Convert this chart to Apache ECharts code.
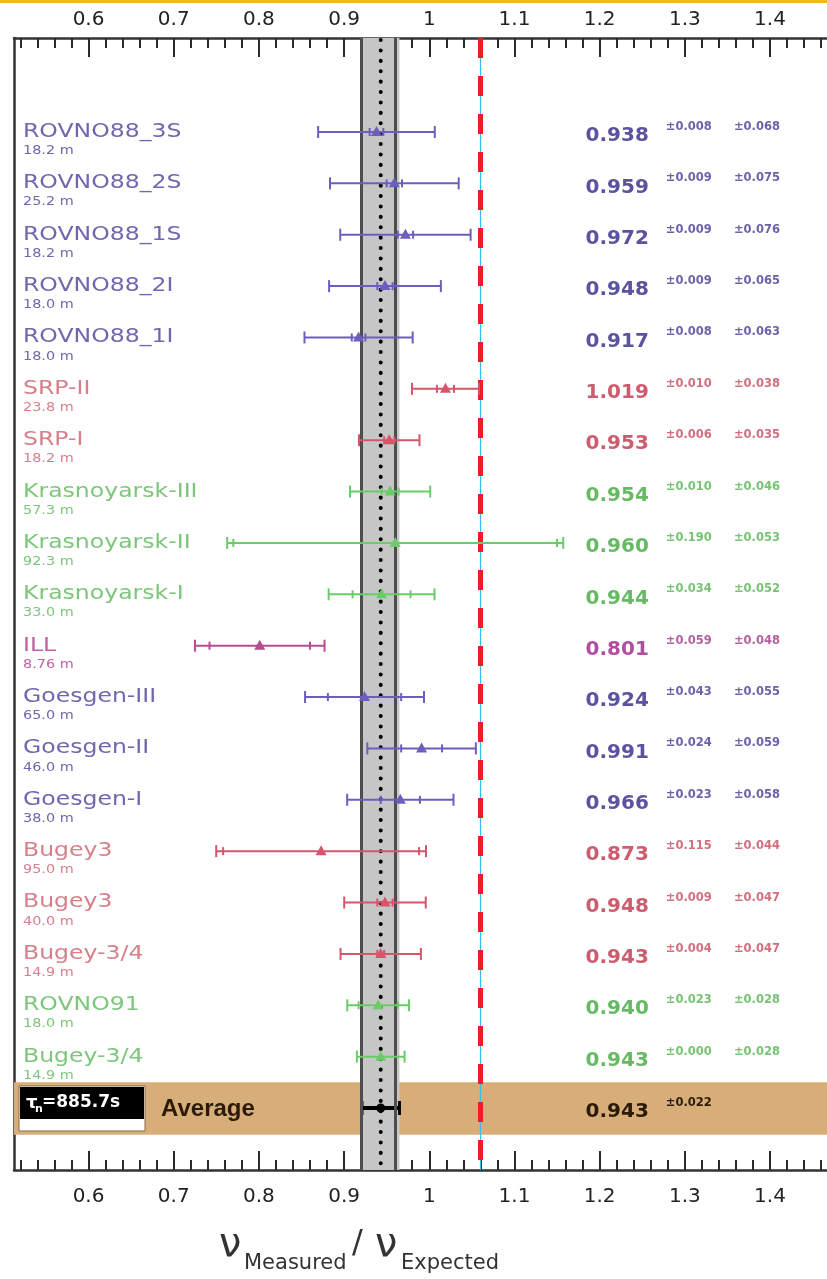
<!DOCTYPE html>
<html><head><meta charset="utf-8">
<script src="https://cdn.jsdelivr.net/npm/echarts@6/dist/echarts.min.js"></script>
<style>html,body{margin:0;padding:0;background:#fff}#c{width:827px;height:1279px}</style>
</head><body><div id="c"></div>
<script>
// ---------- data ----------
const names = ['ROVNO88_3S','ROVNO88_2S','ROVNO88_1S','ROVNO88_2I','ROVNO88_1I','SRP-II','SRP-I','Krasnoyarsk-III','Krasnoyarsk-II','Krasnoyarsk-I','ILL','Goesgen-III','Goesgen-II','Goesgen-I','Bugey3','Bugey3','Bugey-3/4','ROVNO91','Bugey-3/4'];
const distances = ['18.2 m','25.2 m','18.2 m','18.0 m','18.0 m','23.8 m','18.2 m','57.3 m','92.3 m','33.0 m','8.76 m','65.0 m','46.0 m','38.0 m','95.0 m','40.0 m','14.9 m','18.0 m','14.9 m'];
const ratios = [0.938,0.959,0.972,0.948,0.917,1.019,0.953,0.954,0.960,0.944,0.801,0.924,0.991,0.966,0.873,0.948,0.943,0.940,0.943];
const statErrors = [0.008,0.009,0.009,0.009,0.008,0.010,0.006,0.010,0.190,0.034,0.059,0.043,0.024,0.023,0.115,0.009,0.004,0.023,0.000];
const systErrors = [0.068,0.075,0.076,0.065,0.063,0.038,0.035,0.046,0.053,0.052,0.048,0.055,0.059,0.058,0.044,0.047,0.047,0.028,0.028];
const groups = ['B','B','B','B','B','R','R','G','G','G','M','B','B','B','R','R','R','G','G'];
const averageLabel = 'Average';
const averageValue = 0.943;
const averageError = 0.022;
const tauText = '=885.7s';
const xTickLabels = [0.6,0.7,0.8,0.9,1.0,1.1,1.2,1.3,1.4];
const referenceLine = 1.061;

// ---------- layout / style ----------
const XMIN = 0.5125, XMAX = 1.4669;
const YMIN = -1.83, YMAX = 20.207;
const COL_VALUE = 1.1835, COL_STAT = 1.2776, COL_SYST = 1.3576;
const minorTicks = [];
for (let k = 26; k <= 73; k++) if (k % 5 !== 0) minorTicks.push(k / 50);

const palette = {
  B: {name:'#6f68ae', value:'#5a539f', err:'#6a63aa', bar:'#6a5fbf'},
  R: {name:'#d6808b', value:'#cc5d6e', err:'#d0707e', bar:'#d5566c'},
  G: {name:'#7dc67b', value:'#66ba64', err:'#77c275', bar:'#6bcb68'},
  M: {name:'#c062a3', value:'#b04e9f', err:'#b5609e', bar:'#b54c8e'}
};
const SANS = '"DejaVu Sans"';

function vline(x, y, h, stroke, w) {
  return {type:'line', shape:{x1:x, y1:y-h, x2:x, y2:y+h}, style:{stroke, lineWidth:w}};
}
function txt(x, y, text, fill, size, weight, sx, family) {
  return {type:'text', x, y, scaleX: sx || 1,
    style:{text, fill, fontSize:size, fontWeight:weight || 'normal', fontFamily: family || SANS, align:'left', verticalAlign:'middle'}};
}
function fmt(e) { return '\u00b1' + e.toFixed(3); }

function renderRow(params, api) {
  const v = api.value(0), i = api.value(1);
  const st = api.value(2), sy = api.value(3);
  const tot = Math.sqrt(st * st + sy * sy);
  const c = palette[groups[params.dataIndex]];
  const p = api.coord([v, i]);
  const y = p[1];
  const xl = api.coord([v - tot, i])[0], xr = api.coord([v + tot, i])[0];
  const ch = [];
  ch.push({type:'line', shape:{x1:xl, y1:y, x2:xr, y2:y}, style:{stroke:c.bar, lineWidth:2}});
  ch.push(vline(xl, y, 6, c.bar, 2));
  ch.push(vline(xr, y, 6, c.bar, 2));
  if (st > 0.002) {
    ch.push(vline(api.coord([v - st, i])[0], y, 4, c.bar, 2));
    ch.push(vline(api.coord([v + st, i])[0], y, 4, c.bar, 2));
  }
  ch.push({type:'polygon', shape:{points:[[p[0], y-6],[p[0]-5.5, y+4],[p[0]+5.5, y+4]]}, style:{fill:c.bar}});
  const x0 = api.coord([XMIN, i])[0];
  ch.push(txt(x0 + 9, y, names[params.dataIndex], c.name, 19, 'normal', 1.24));
  ch.push(txt(x0 + 9, y + 19, distances[params.dataIndex], c.name, 12, 'normal', 1.2));
  ch.push(txt(api.coord([COL_VALUE, i])[0], y + 4, v.toFixed(3), c.value, 20, 'bold'));
  ch.push(txt(api.coord([COL_STAT, i])[0], y - 5, fmt(st), c.err, 11.5, 'bold'));
  ch.push(txt(api.coord([COL_SYST, i])[0], y - 5, fmt(sy), c.err, 11.5, 'bold'));
  return {type:'group', children:ch};
}

function renderAverage(params, api) {
  const v = api.value(0), i = api.value(1), e = api.value(2);
  const p = api.coord([v, i]);
  const y = p[1];
  const xl = api.coord([v - e, i])[0], xr = api.coord([v + e, i])[0];
  const x0 = api.coord([XMIN, i])[0];
  const yTop = api.coord([v, YMIN])[1], yBot = api.coord([v, YMAX])[1];
  const ch = [];
  // dotted average line across the whole frame
  ch.push({type:'line', shape:{x1:p[0], y1:yTop + 2, x2:p[0], y2:yBot}, z2:-1,
    style:{stroke:'#000', lineWidth:4, lineDash:[0.1, 10.3], lineCap:'round'}});
  ch.push({type:'line', shape:{x1:xl, y1:y, x2:xr, y2:y}, style:{stroke:'#000', lineWidth:4}});
  ch.push(vline(xl, y, 7, '#000', 3));
  ch.push(vline(xr, y, 7, '#000', 3));
  ch.push({type:'circle', shape:{cx:p[0], cy:y, r:4.5}, style:{fill:'#000'}});
  // tau box
  ch.push({type:'rect', shape:{x:x0 + 5, y:y - 22, width:126, height:45}, style:{fill:'#fff', stroke:'#8b6b43', lineWidth:1}});
  ch.push({type:'rect', shape:{x:x0 + 6, y:y - 21, width:124, height:32}, style:{fill:'#000'}});
  ch.push(txt(x0 + 12, y - 5, '\u03c4', '#fff', 18, 'bold'));
  ch.push(txt(x0 + 21, y + 1, 'n', '#fff', 11, 'bold'));
  ch.push(txt(x0 + 28, y - 5, tauText, '#fff', 17, 'bold'));
  ch.push(txt(x0 + 147, y + 1, averageLabel, '#2b1a08', 24, 'bold', 1, '"Liberation Sans"'));
  ch.push(txt(api.coord([COL_VALUE, i])[0], y + 4, v.toFixed(3), '#2b1a08', 20, 'bold'));
  ch.push(txt(api.coord([COL_STAT, i])[0], y - 5, fmt(e), '#2b1a08', 11.5, 'bold'));
  return {type:'group', children:ch};
}

const axisBase = {type:'value', min:XMIN, max:XMAX, splitLine:{show:false}};
const tickStyle = {color:'#2a2a2a', width:2};
function majorAxis(pos, margin) {
  return Object.assign({}, axisBase, {position:pos,
    axisLine:{show:true, onZero:false, lineStyle:{color:'#333', width:2.5}},
    axisTick:{show:true, inside:true, length:19, customValues:xTickLabels, lineStyle:tickStyle},
    axisLabel:{show:true, customValues:xTickLabels, margin, fontSize:20, fontFamily:SANS, color:'#222', formatter:(v) => String(v)}});
}
function minorAxis(pos) {
  return Object.assign({}, axisBase, {position:pos,
    axisLine:{show:false, onZero:false},
    axisTick:{show:true, inside:true, length:10, customValues:minorTicks, lineStyle:tickStyle},
    axisLabel:{show:false}});
}

const chart = echarts.init(document.getElementById('c'), null, {renderer:'canvas'});
const avgRow = names.length;
chart.setOption({
  animation:false,
  backgroundColor:'#fff',
  grid:{left:14, right:0, top:38, bottom:109},
  xAxis:[majorAxis('top', 8), minorAxis('top'), majorAxis('bottom', 17), minorAxis('bottom')],
  yAxis:{type:'value', inverse:true, min:YMIN, max:YMAX, splitLine:{show:false},
    axisLine:{show:true, onZero:false, lineStyle:{color:'#333', width:2.5}}, axisTick:{show:false}, axisLabel:{show:false}},
  graphic:[
    {type:'rect', shape:{x:0, y:0, width:827, height:3}, style:{fill:'#f6b324'}},
    {type:'text', x:219, y:1226, style:{text:'\u03bd', fontSize:40, fontFamily:SANS, fill:'#333'}},
    {type:'text', x:244, y:1253, style:{text:'Measured', fontSize:21, fontFamily:SANS, fill:'#333'}},
    {type:'text', x:352, y:1228, style:{text:'/', fontSize:32, fontFamily:SANS, fill:'#333'}},
    {type:'text', x:375, y:1226, style:{text:'\u03bd', fontSize:40, fontFamily:SANS, fill:'#333'}},
    {type:'text', x:401, y:1253, style:{text:'Expected', fontSize:21, fontFamily:SANS, fill:'#333'}}
  ],
  series:[
    {type:'line', data:[], z:1, silent:true,
      markArea:{silent:true, itemStyle:{color:'#d7ae79'},
        data:[[{xAxis:XMIN, yAxis:avgRow - 0.5}, {xAxis:XMAX, yAxis:avgRow + 0.52}]]}},
    {type:'line', data:[], z:2, silent:true,
      markArea:{silent:true, itemStyle:{color:'#c6c6c6'},
        data:[[{xAxis:averageValue - averageError}, {xAxis:averageValue + averageError}]]},
      markLine:{silent:true, symbol:'none', label:{show:false},
        lineStyle:{color:'#4d4d4d', width:3, type:'solid'},
        data:[{xAxis:averageValue - averageError}, {xAxis:averageValue + averageError}]}},
    {type:'line', data:[], z:3, silent:true,
      markLine:{silent:true, symbol:'none', label:{show:false},
        data:[
          {xAxis:referenceLine, lineStyle:{color:'#39bdf0', width:1.2, type:'solid'}},
          {xAxis:referenceLine, lineStyle:{color:'#ee1c25', width:5, type:[20, 18]}}
        ]}},
    {type:'custom', z:4, renderItem:renderAverage, clip:false,
      data: [[averageValue, avgRow, averageError]]},
    {type:'custom', z:5, renderItem:renderRow, clip:false,
      data: ratios.map((v, i) => [v, i, statErrors[i], systErrors[i]])}
  ]
});
</script></body></html>
